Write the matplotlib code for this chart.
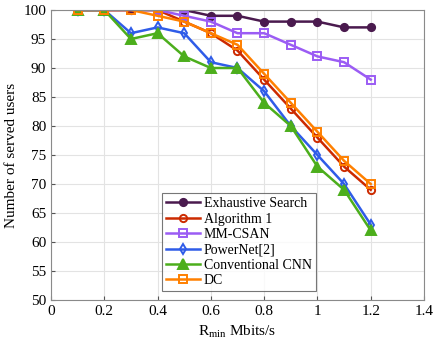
import matplotlib.pyplot as plt
import numpy as np

plt.rcParams['font.family'] = ['Liberation Serif', 'DejaVu Serif']
plt.rcParams['mathtext.fontset'] = 'custom'
plt.rcParams['mathtext.rm'] = 'Liberation Serif'

r_min = [0.1, 0.2, 0.3, 0.4, 0.5, 0.6, 0.7, 0.8, 0.9, 1.0, 1.1, 1.2]
exhaustive = [100, 100, 100, 100, 100, 99, 99, 98, 98, 98, 97, 97]
algorithm1 = [100, 100, 100, 100, 98, 96, 93, 88, 83, 78, 73, 69]
mm_csan = [100, 100, 100, 100, 99, 98, 96, 96, 94, 92, 91, 88]
powernet = [100, 100, 96, 97, 96, 91, 90, 86, 80, 75, 70, 63]
conv_cnn = [100, 100, 95, 96, 92, 90, 90, 84, 80, 73, 69, 62]
dc = [100, 100, 100, 99, 98, 96, 94, 89, 84, 79, 74, 70]

series = [
    ('Exhaustive Search', exhaustive, '#4a1a4e', 'o', 'full'),
    ('Algorithm 1', algorithm1, '#cc2a00', 'o', 'none'),
    ('MM-CSAN', mm_csan, '#9b5cf4', 's', 'none'),
    ('PowerNet[2]', powernet, '#2f5ce8', 'd', 'none'),
    ('Conventional CNN', conv_cnn, '#4cae1c', '^', 'full'),
    ('DC', dc, '#ff8000', 's', 'none'),
]

fig = plt.figure(figsize=(4.33, 3.41), dpi=100)
ax = fig.add_axes([51 / 433, 41 / 341, 373 / 433, 290 / 341])

for name, vals, col, mk, fill in series:
    ms = 6.5 if mk == '^' else 5.2
    ax.plot(r_min, vals, color=col, lw=1.8, marker=mk, ms=ms,
            markerfacecolor=(col if fill == 'full' else 'none'),
            markeredgecolor=col, markeredgewidth=1.4, label=name)

ax.set_xlim(0, 1.4)
ax.set_ylim(50, 100)
ax.set_xticks(np.arange(0, 1.41, 0.2))
ax.set_xticklabels(['0', '0.2', '0.4', '0.6', '0.8', '1', '1.2', '1.4'])
ax.set_yticks(np.arange(50, 101, 5))
ax.grid(True, color='#e3e3e3', lw=0.8)
ax.set_axisbelow(True)
for s in ax.spines.values():
    s.set_color('#8a8a8a')
    s.set_linewidth(0.8)
ax.tick_params(labelsize=11, direction='in', length=3, color='#555555')
ax.set_xlabel(r'$\mathrm{R_{min}}$ Mbits/s', fontsize=11, labelpad=4)
ax.set_ylabel('Number of served users', fontsize=11)

leg = ax.legend(loc='lower left', bbox_to_anchor=(0.298, 0.03), fontsize=10,
                frameon=True, fancybox=False, edgecolor='#555555',
                handlelength=2.4, borderpad=0.3, labelspacing=0.17,
                handletextpad=0.3, borderaxespad=0)
leg.get_frame().set_linewidth(0.8)

fig.savefig('out.png', dpi=100)
